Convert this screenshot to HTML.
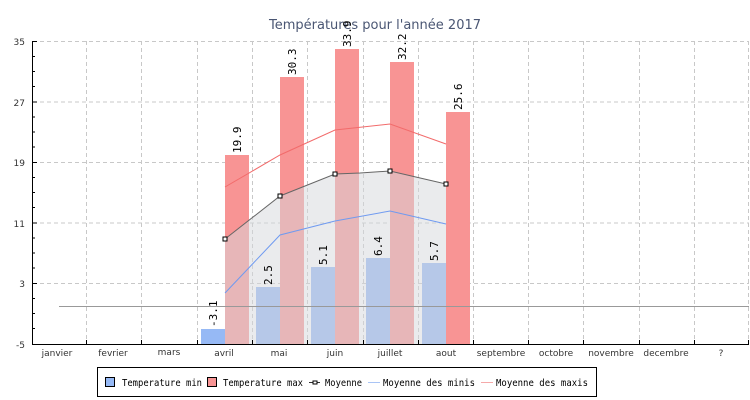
<!DOCTYPE html>
<html><head><meta charset="utf-8"><style>
html,body{margin:0;padding:0;background:#fff;}
svg{display:block;font-family:"DejaVu Sans","Liberation Sans",sans-serif;}
</style></head><body>
<svg width="750" height="400" viewBox="0 0 750 400" xmlns="http://www.w3.org/2000/svg">
<rect width="750" height="400" fill="#fff"/>
<text x="375" y="29" text-anchor="middle" font-size="13" fill="#4a5673">Températures pour l'année 2017</text>
<g stroke="#c8c8c8" stroke-dasharray="4,3" stroke-width="1">
<line x1="33" y1="41.5" x2="749" y2="41.5"/>
<line x1="33" y1="102" x2="749" y2="102"/>
<line x1="33" y1="162.5" x2="749" y2="162.5"/>
<line x1="33" y1="223" x2="749" y2="223"/>
<line x1="33" y1="283.5" x2="749" y2="283.5"/>
<line x1="86.5" y1="41" x2="86.5" y2="344"/>
<line x1="141.5" y1="41" x2="141.5" y2="344"/>
<line x1="197.5" y1="41" x2="197.5" y2="344"/>
<line x1="252.5" y1="41" x2="252.5" y2="344"/>
<line x1="307.5" y1="41" x2="307.5" y2="344"/>
<line x1="363.5" y1="41" x2="363.5" y2="344"/>
<line x1="418.5" y1="41" x2="418.5" y2="344"/>
<line x1="473.5" y1="41" x2="473.5" y2="344"/>
<line x1="528.5" y1="41" x2="528.5" y2="344"/>
<line x1="583.5" y1="41" x2="583.5" y2="344"/>
<line x1="639.5" y1="41" x2="639.5" y2="344"/>
<line x1="694.5" y1="41" x2="694.5" y2="344"/>
<line x1="748.5" y1="41" x2="748.5" y2="344"/>
</g>
<g fill="#96b9f5">
<rect x="201" y="329" width="24" height="15"/>
<rect x="256" y="287" width="24" height="57"/>
<rect x="311" y="267" width="24" height="77"/>
<rect x="366" y="258" width="24" height="86"/>
<rect x="422" y="263" width="24" height="81"/>
</g>
<g fill="#f89494">
<rect x="225" y="155" width="24" height="189"/>
<rect x="280" y="77" width="24" height="267"/>
<rect x="335" y="49" width="24" height="295"/>
<rect x="390" y="62" width="24" height="282"/>
<rect x="446" y="112" width="24" height="232"/>
</g>
<polygon points="225,239 280,196 335,174 360,173 390,171 446,184 446,344 225,344" fill="#d6d8dc" fill-opacity="0.5"/>
<line x1="59" y1="306.5" x2="749" y2="306.5" stroke="#999" stroke-width="1"/>
<polyline points="225,293 280,235 335,221 390,211 446,224" fill="none" stroke="#6f9af0" stroke-width="1"/>
<polyline points="225,187 280,155 335,130 390,124 446,144" fill="none" stroke="#f26b6b" stroke-width="1"/>
<polyline points="225,239 280,196 335,174 360,173 390,171 446,184" fill="none" stroke="#666" stroke-width="1"/>
<g fill="#fff" stroke="#000" stroke-width="1">
<rect x="223" y="237" width="4" height="4"/>
<rect x="278" y="194" width="4" height="4"/>
<rect x="333" y="172" width="4" height="4"/>
<rect x="388" y="169" width="4" height="4"/>
<rect x="444" y="182" width="4" height="4"/>
</g>
<g font-size="11" fill="#000" font-family="'DejaVu Sans Mono','Liberation Mono',monospace">
<text transform="translate(217,327) rotate(-90)">-3.1</text>
<text transform="translate(272,285) rotate(-90)">2.5</text>
<text transform="translate(327,265) rotate(-90)">5.1</text>
<text transform="translate(382,256) rotate(-90)">6.4</text>
<text transform="translate(438,261) rotate(-90)">5.7</text>
<text transform="translate(241,153) rotate(-90)">19.9</text>
<text transform="translate(296,75) rotate(-90)">30.3</text>
<text transform="translate(351,47) rotate(-90)">33.9</text>
<text transform="translate(406,60) rotate(-90)">32.2</text>
<text transform="translate(462,110) rotate(-90)">25.6</text>
</g>
<line x1="32.5" y1="41" x2="32.5" y2="345" stroke="#000"/>
<line x1="32" y1="344.5" x2="749" y2="344.5" stroke="#000"/>
<g stroke="#000">
<line x1="32" y1="41.5" x2="37" y2="41.5"/><line x1="32" y1="56.5" x2="35" y2="56.5"/><line x1="32" y1="71.5" x2="35" y2="71.5"/><line x1="32" y1="86.5" x2="35" y2="86.5"/>
<line x1="32" y1="102" x2="37" y2="102"/><line x1="32" y1="117" x2="35" y2="117"/><line x1="32" y1="132" x2="35" y2="132"/><line x1="32" y1="147" x2="35" y2="147"/>
<line x1="32" y1="162.5" x2="37" y2="162.5"/><line x1="32" y1="177.5" x2="35" y2="177.5"/><line x1="32" y1="192.5" x2="35" y2="192.5"/><line x1="32" y1="207.5" x2="35" y2="207.5"/>
<line x1="32" y1="223" x2="37" y2="223"/><line x1="32" y1="238" x2="35" y2="238"/><line x1="32" y1="253" x2="35" y2="253"/><line x1="32" y1="268" x2="35" y2="268"/>
<line x1="32" y1="283.5" x2="37" y2="283.5"/><line x1="32" y1="298.5" x2="35" y2="298.5"/><line x1="32" y1="313.5" x2="35" y2="313.5"/><line x1="32" y1="328.5" x2="35" y2="328.5"/>
<line x1="86.5" y1="340" x2="86.5" y2="344"/><line x1="141.5" y1="340" x2="141.5" y2="344"/><line x1="197.5" y1="340" x2="197.5" y2="344"/><line x1="252.5" y1="340" x2="252.5" y2="344"/><line x1="307.5" y1="340" x2="307.5" y2="344"/><line x1="363.5" y1="340" x2="363.5" y2="344"/><line x1="418.5" y1="340" x2="418.5" y2="344"/><line x1="473.5" y1="340" x2="473.5" y2="344"/><line x1="528.5" y1="340" x2="528.5" y2="344"/><line x1="583.5" y1="340" x2="583.5" y2="344"/><line x1="639.5" y1="340" x2="639.5" y2="344"/><line x1="694.5" y1="340" x2="694.5" y2="344"/><line x1="748.5" y1="340" x2="748.5" y2="344"/>
</g>
<g font-size="9" fill="#333" text-anchor="end">
<text x="25" y="45">35</text><text x="25" y="106">27</text><text x="25" y="166">19</text><text x="25" y="227">11</text><text x="25" y="287">3</text><text x="25" y="348">-5</text>
</g>
<g font-size="9" fill="#333" text-anchor="middle">
<text x="57" y="356">janvier</text><text x="113" y="356">fevrier</text><text x="169" y="355">mars</text><text x="224" y="356">avril</text><text x="279" y="356">mai</text><text x="335" y="356">juin</text><text x="390" y="356">juillet</text><text x="446" y="356">aout</text><text x="501" y="356">septembre</text><text x="556" y="356">octobre</text><text x="611" y="356">novembre</text><text x="666" y="356">decembre</text><text x="721" y="356">?</text>
</g>
<rect x="97.5" y="367.5" width="499" height="29" fill="#fff" stroke="#000"/>
<g font-size="10" fill="#000" font-family="'DejaVu Sans Mono','Liberation Mono',monospace">
<rect x="105.5" y="377.5" width="9" height="9" fill="#96b9f5" stroke="#000"/>
<text x="122" y="386" textLength="80" lengthAdjust="spacingAndGlyphs">Temperature min</text>
<rect x="207.5" y="377.5" width="9" height="9" fill="#f89494" stroke="#000"/>
<text x="223" y="386" textLength="80" lengthAdjust="spacingAndGlyphs">Temperature max</text>
<line x1="309" y1="382.5" x2="320" y2="382.5" stroke="#333"/>
<rect x="313" y="381" width="4" height="3" fill="#fff" stroke="#000"/>
<text x="325" y="386" textLength="37" lengthAdjust="spacingAndGlyphs">Moyenne</text>
<line x1="368" y1="382.5" x2="380" y2="382.5" stroke="#a9c4f5"/>
<text x="383" y="386" textLength="92" lengthAdjust="spacingAndGlyphs">Moyenne des minis</text>
<line x1="481" y1="382.5" x2="493" y2="382.5" stroke="#f5a9a9"/>
<text x="496" y="386" textLength="92" lengthAdjust="spacingAndGlyphs">Moyenne des maxis</text>
</g>
</svg>
</body></html>
